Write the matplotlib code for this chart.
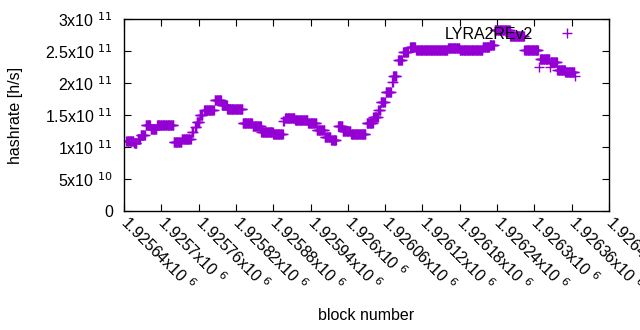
import numpy as np
import matplotlib
matplotlib.use('Agg')
import matplotlib.pyplot as plt
from matplotlib.transforms import ScaledTranslation

plt.rcParams['font.family'] = ['Liberation Sans', 'DejaVu Sans']

# --- data: runs of blocks with the same hashrate ---
run_start = [1925644, 1925656, 1925662, 1925667, 1925675, 1925683, 1925693, 1925720,
             1925733, 1925749, 1925754, 1925757, 1925762, 1925769, 1925786, 1925797,
             1925806, 1925831, 1925847, 1925861, 1925880, 1925896, 1925899, 1925915,
             1925936, 1925950, 1925963, 1925973, 1925984, 1925992, 1926005, 1926030,
             1926041, 1926049, 1926053, 1926061, 1926071, 1926073, 1926081, 1926089,
             1926100, 1926110, 1926161, 1926180, 1926217, 1926228, 1926236, 1926261,
             1926284, 1926308, 1926309, 1926325, 1926326, 1926337, 1926350, 1926365]
run_end = [1925656, 1925661, 1925666, 1925674, 1925683, 1925693, 1925720, 1925733,
           1925748, 1925752, 1925757, 1925762, 1925767, 1925785, 1925797, 1925806,
           1925831, 1925847, 1925861, 1925880, 1925896, 1925898, 1925915, 1925936,
           1925950, 1925963, 1925973, 1925982, 1925992, 1926005, 1926029, 1926041,
           1926049, 1926053, 1926060, 1926070, 1926073, 1926079, 1926088, 1926097,
           1926109, 1926161, 1926180, 1926217, 1926228, 1926236, 1926261, 1926284,
           1926307, 1926309, 1926325, 1926326, 1926337, 1926350, 1926365, 1926366]
run_rate = [1.10e11, 1.06e11, 1.13e11, 1.19e11, 1.34e11, 1.28e11, 1.34e11, 1.08e11,
            1.12e11, 1.24e11, 1.32e11, 1.39e11, 1.50e11, 1.58e11, 1.73e11, 1.66e11,
            1.59e11, 1.38e11, 1.33e11, 1.23e11, 1.20e11, 1.41e11, 1.46e11, 1.42e11,
            1.37e11, 1.27e11, 1.16e11, 1.11e11, 1.33e11, 1.25e11, 1.20e11, 1.37e11,
            1.47e11, 1.58e11, 1.71e11, 1.86e11, 2.02e11, 2.11e11, 2.36e11, 2.48e11,
            2.57e11, 2.52e11, 2.54e11, 2.52e11, 2.57e11, 2.60e11, 2.83e11, 2.73e11,
            2.52e11, 2.25e11, 2.37e11, 2.25e11, 2.33e11, 2.20e11, 2.17e11, 2.11e11]

x_ticks = [1925640 + 60 * i for i in range(14)]
x_labels = ['1.92564', '1.9257', '1.92576', '1.92582', '1.92588', '1.92594', '1.926',
            '1.92606', '1.92612', '1.92618', '1.92624', '1.9263', '1.92636', '1.92642']
y_ticks = [0, 5e10, 1e11, 1.5e11, 2e11, 2.5e11, 3e11]
y_labels = ['0', '5x10 $^{10}$', '1x10 $^{11}$', '1.5x10 $^{11}$', '2x10 $^{11}$',
            '2.5x10 $^{11}$', '3x10 $^{11}$']

# one point per block inside each run
blocks = np.concatenate([np.arange(s, e) for s, e in zip(run_start, run_end)])
rates = np.concatenate([[r] * (e - s) for s, e, r in zip(run_start, run_end, run_rate)])

fs = 11.5
fig = plt.figure(figsize=(6.4, 3.3), dpi=100)
ax = fig.add_axes([124 / 640, 1 - 211 / 330, 485 / 640, 192 / 330])

ax.plot(blocks, rates, linestyle='none', marker='+', markersize=6.5,
        markeredgewidth=1.0, color='#9400D3', label='LYRA2REv2')

ax.set_xlim(1925640, 1926420)
ax.set_ylim(0, 3e11)
ax.set_xticks(x_ticks)
ax.set_xticklabels([l + 'x10 $^{6}$' for l in x_labels], rotation=-45,
                   ha='left', va='center', rotation_mode='anchor', fontsize=fs)
shift = ScaledTranslation(3 / 100, 0, fig.dpi_scale_trans)
for lbl in ax.get_xticklabels():
    lbl.set_transform(lbl.get_transform() + shift)
ax.set_yticks(y_ticks)
ax.set_yticklabels(y_labels, fontsize=fs)
ax.tick_params(direction='in', length=5, top=True, right=True, width=0.8)
ax.tick_params(axis='x', pad=6)
ax.tick_params(axis='y', pad=8)
for s in ax.spines.values():
    s.set_linewidth(1.0)

ax.set_xlabel('block number', fontsize=fs, va='center')
ax.xaxis.set_label_coords(0.5, (211 - 315) / 192)
ax.set_ylabel('hashrate [h/s]', fontsize=fs, va='center')
ax.yaxis.set_label_coords((16 - 124) / 485, 0.5)

ax.legend(loc='upper right', bbox_to_anchor=(0.9645, 0.985), borderaxespad=0,
          frameon=False, markerfirst=False, fontsize=fs, handlelength=2.5,
          handletextpad=0.9, borderpad=0.3)

fig.savefig('out.png')
